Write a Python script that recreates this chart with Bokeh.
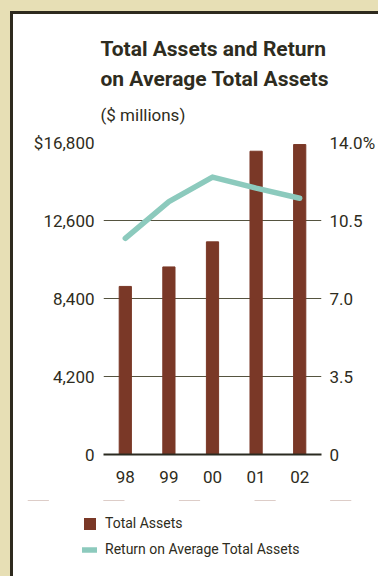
from bokeh.plotting import figure
from bokeh.layouts import column
from bokeh.models import (Range1d, LinearAxis, FixedTicker, Title, Legend, LegendItem,
                          ColumnDataSource, GlobalInlineStyleSheet)
from bokeh.embed import file_html
from bokeh.resources import INLINE

# ---- data ----
years = ["98", "99", "00", "01", "02"]
total_assets = [9050, 10100, 11450, 16330, 16690]
roa = [9.7, 11.35, 12.45, 11.95, 11.5]
left_ticks = [0, 4200, 8400, 12600, 16800]
left_labels = ["0", "4,200", "8,400", "12,600", "$16,800"]
right_ticks = [0, 3.5, 7.0, 10.5, 14.0]
right_labels = ["0", "3.5", "7.0", "10.5", "14.0%"]
title_lines = ["Total Assets and Return", "on Average Total Assets"]
subtitle = "($ millions)"
series_names = ["Total Assets", "Return on Average Total Assets"]

FONT = "Roboto, 'Liberation Sans', sans-serif"
TXT = "#2e2c20"
BAR = "#7a3827"
TEAL = "#8ccabd"
GRID = "#55533f"
TAN = "#e7dfb5"
EDGE = "#2e2a1e"

W = 378
H_CHART, H_LEG = 500, 76

p = figure(width=W, height=H_CHART, x_range=years, y_range=Range1d(0, 16800),
           output_backend="svg", toolbar_location=None,
           min_border_left=103, min_border_right=52, min_border_top=142, min_border_bottom=46)
p.title = None
p.border_fill_alpha = 0
p.background_fill_color = "white"
p.outline_line_color = None
p.extra_y_ranges = {"roa": Range1d(0, 14)}

css = f"""
html {{ overflow: hidden;
  background:
    linear-gradient(to bottom, {TAN} 0px, {TAN} 11px, {EDGE} 11px, {EDGE} 14px) 10px 0px / 100% 14px no-repeat,
    linear-gradient(to right, {TAN} 0px, {TAN} 10px, {EDGE} 10px, {EDGE} 13px, #ffffff 13px) 0px 0px / 100% 100% no-repeat,
    #ffffff; }}
body {{ background: transparent; }}
"""
p.stylesheets = [GlobalInlineStyleSheet(css=css)]

src = ColumnDataSource(dict(years=years, assets=total_assets, roa=roa))
p.vbar(x="years", top="assets", width=0.28, source=src, color=BAR)
p.line(x="years", y="roa", source=src, y_range_name="roa", line_color=TEAL,
       line_width=5.5, line_cap="round", line_join="round")

# axes
ax = p.yaxis[0]
ax.ticker = FixedTicker(ticks=left_ticks)
ax.major_label_overrides = {t: l for t, l in zip(left_ticks, left_labels)}
rax = LinearAxis(y_range_name="roa", ticker=FixedTicker(ticks=right_ticks))
rax.major_label_overrides = {t: l for t, l in zip(right_ticks, right_labels)}
p.add_layout(rax, "right")
xa = p.xaxis[0]
for a in (ax, rax, xa):
    a.major_tick_line_color = None
    a.minor_tick_line_color = None
    a.major_tick_out = 0
    a.major_tick_in = 0
    a.minor_tick_out = 0
    a.minor_tick_in = 0
    a.major_label_text_font = FONT
    a.major_label_text_font_size = "17px"
    a.major_label_text_color = TXT
ax.axis_line_color = None
rax.axis_line_color = None
ax.major_label_standoff = 9
rax.major_label_standoff = 8
xa.axis_line_color = "#2a2a20"
xa.axis_line_width = 2
xa.major_label_standoff = 16

p.xgrid.grid_line_color = None
p.ygrid.grid_line_color = GRID
p.ygrid.grid_line_width = 1
p.ygrid.ticker = FixedTicker(ticks=left_ticks)

# titles: first added sits nearest the frame
p.add_layout(Title(text=" ", text_font_size="5px", standoff=0), "above")
p.add_layout(Title(text=subtitle, align="left", offset=-3, standoff=20,
                   text_font=FONT, text_font_size="17px", text_font_style="normal",
                   text_color=TXT), "above")
for txt in reversed(title_lines):
    p.add_layout(Title(text=txt, align="left", offset=-3, standoff=4,
                       text_font=FONT, text_font_size="21px", text_font_style="bold",
                       text_color=TXT), "above")

# legend strip: its own small figure whose frame is the whole strip
q = figure(width=W, height=H_LEG, x_range=years, y_range=Range1d(-2, -1),
           x_axis_type=None, y_axis_type=None, output_backend="svg", toolbar_location=None,
           min_border=0, min_border_left=0, min_border_right=0, min_border_top=0, min_border_bottom=0)
q.title = None
q.border_fill_alpha = 0
q.background_fill_alpha = 0
q.outline_line_color = None
q.xgrid.visible = False
q.ygrid.visible = False

legend_x = 82
try:
    q.frame_align = False
    p.frame_align = False
except Exception:
    legend_x = 0

# legend proxies: zero-height, outline-free bars / line far outside the strip's visible range
lb = q.vbar(x="years", top="assets", bottom="assets", width=0.28, source=src,
            fill_color=BAR, line_color=None)
ll = q.line(x="years", y="roa", source=src, line_color=TEAL, line_width=5.5, line_cap="round")
legend = Legend(items=[LegendItem(label=series_names[0], renderers=[lb]),
                       LegendItem(label=series_names[1], renderers=[ll])],
                location=(legend_x, 17), orientation="vertical",
                label_text_font=FONT, label_text_font_size="14px", label_text_color=TXT,
                glyph_width=15, glyph_height=15, label_height=20, label_standoff=8, spacing=6,
                padding=0, margin=0, border_line_color=None, background_fill_alpha=0)
q.add_layout(legend, "center")

layout = column(p, q, spacing=0)
open("out.html", "w").write(file_html(layout, INLINE))
